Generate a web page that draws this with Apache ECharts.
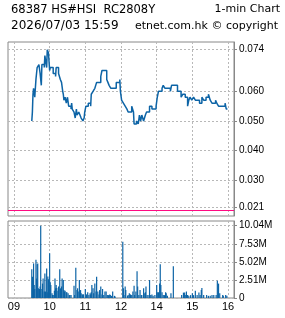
<!DOCTYPE html>
<html>
<head>
<meta charset="utf-8">
<script src="https://cdn.jsdelivr.net/npm/echarts@6/dist/echarts.min.js"></script>
<style>
  html, body { margin: 0; padding: 0; background: #fff; }
  #chart { width: 285px; height: 318px; }
</style>
</head>
<body>
<div id="chart"></div>
<script>
// hour ticks on the time axis (lunch break 12:00-13:00 is squeezed out)
const xTickTimes  = ['09:00', '10:00', '11:00', '12:00', '14:00', '15:00', '16:00']
const xTickLabels = ['09', '10', '11', '12', '14', '15', '16']

// price axis ticks and the pink reference level
const priceTicks = [0.074, 0.060, 0.050, 0.040, 0.030, 0.021]
const refLevel = 0.021

// volume axis ticks (millions)
const volTicks = [0, 2.51, 5.02, 7.53, 10.04]

// 1-min last price
const priceTimes = [
  '09:30','09:31','09:32','09:33','09:35','09:37','09:39','09:42','09:44','09:46',
  '09:47','09:51','09:52','09:55','09:56','09:58','10:00','10:01','10:06','10:10',
  '10:11','10:15','10:18','10:20','10:22','10:23','10:24','10:26','10:28','10:30',
  '10:32','10:36','10:37','10:38','10:41','10:43','10:45','10:46','10:49','10:51',
  '10:53','10:56','10:58','10:59','11:01','11:05','11:09','11:10','11:13','11:16',
  '11:19','11:26','11:28','11:36','11:38','11:40','11:43','11:52','11:58','11:59',
  '13:01','13:04','13:07','13:10','13:12','13:18','13:21','13:22','13:26','13:29',
  '13:31','13:33','13:35','13:38','13:41','13:43','13:48','13:52','13:59','14:01',
  '14:03','14:09','14:11','14:14','14:23','14:25','14:35','14:41','14:44','14:48',
  '14:52','14:54','14:56','14:59','15:02','15:05','15:12','15:16','15:19','15:23',
  '15:27','15:30','15:33','15:39','15:41','15:44','15:55','15:57','15:59'
]
const priceValues = [
  0.050,0.053,0.059,0.061,0.058,0.064,0.068,0.069,0.066,0.062,
  0.069,0.068,0.072,0.068,0.074,0.073,0.067,0.068,0.066,0.065,
  0.068,0.066,0.064,0.063,0.060,0.059,0.057,0.058,0.056,0.058,
  0.055,0.054,0.056,0.054,0.053,0.051,0.054,0.052,0.053,0.052,
  0.051,0.050,0.051,0.053,0.055,0.056,0.055,0.059,0.060,0.061,
  0.063,0.065,0.067,0.064,0.063,0.062,0.061,0.063,0.064,0.060,
  0.057,0.056,0.055,0.054,0.053,0.055,0.053,0.049,0.050,0.049,
  0.052,0.050,0.052,0.050,0.052,0.053,0.055,0.054,0.055,0.058,
  0.060,0.061,0.062,0.061,0.060,0.062,0.060,0.058,0.059,0.058,
  0.055,0.057,0.058,0.057,0.058,0.057,0.056,0.058,0.057,0.058,
  0.059,0.057,0.056,0.057,0.056,0.055,0.056,0.054,0.054
]

// 1-min volume, millions of shares
const volTimes = [
  '09:30','09:31','09:33','09:34','09:35','09:37','09:38','09:39','09:40','09:41',
  '09:43','09:44','09:45','09:47','09:48','09:49','09:51','09:52','09:53','09:55',
  '09:56','09:57','09:58','10:00','10:01','10:02','10:04','10:05','10:07','10:08',
  '10:09','10:10','10:11','10:12','10:14','10:15','10:17','10:18','10:19','10:20',
  '10:21','10:23','10:24','10:25','10:26','10:28','10:29','10:31','10:33','10:34',
  '10:36','10:41','10:42','10:44','10:46','10:47','10:48','10:50','10:51','10:52',
  '10:53','10:55','10:56','10:57','11:00','11:02','11:04','11:06','11:08','11:09',
  '11:10','11:11','11:13','11:14','11:16','11:18','11:19','11:21','11:23','11:24',
  '11:26','11:28','11:29','11:31','11:33','11:35','11:37','11:39','11:41','11:42',
  '11:44','11:46','11:49','11:50','13:03','13:04','13:05','13:07','13:08','13:11',
  '13:12','13:14','13:16','13:18','13:20','13:22','13:23','13:25','13:27','13:28',
  '13:30','13:32','13:34','13:35','13:38','13:39','13:41','13:42','13:44','13:47',
  '13:48','13:50','13:52','13:54','13:57','14:00','14:01','14:03','14:05','14:06',
  '14:07','14:09','14:11','14:13','14:15','14:16','14:18','14:24','14:28','14:42',
  '14:45','14:47','14:48','14:50','14:52','14:54','14:57','15:00','15:02','15:05',
  '15:08','15:11','15:13','15:15','15:16','15:19','15:24','15:27','15:30','15:33',
  '15:36','15:40','15:42','15:44','15:46','15:51','15:52','15:56','15:58'
]
const volValues = [
  4.0,2.96,4.8,1.8,1.25,5.3,2.7,4.7,4.8,1.35,
  1.25,1.6,10.04,1.25,2.0,2.7,0.9,3.4,0.9,4.1,
  0.8,3.0,2.6,6.2,2.2,1.8,0.65,0.4,0.4,1.0,
  2.7,1.35,1.8,1.4,1.0,1.6,4.0,1.25,1.4,1.6,
  2.7,2.5,1.1,0.9,1.0,0.8,0.8,0.65,0.4,0.4,
  0.4,1.7,0.4,4.2,1.1,1.35,0.9,2.5,1.0,1.1,
  0.65,0.5,0.5,0.5,1.25,0.5,0.8,0.4,0.65,0.5,
  0.8,1.8,1.35,0.65,2.0,0.9,2.96,0.9,0.5,1.1,
  1.6,0.5,1.25,0.4,0.9,0.9,0.4,0.4,0.5,0.4,
  0.3,0.9,0.3,0.2,7.8,1.35,0.4,1.6,1.1,0.3,
  0.4,0.65,0.5,0.4,0.9,1.7,0.4,0.9,3.7,1.6,
  0.4,1.1,0.4,0.4,1.35,0.65,0.8,1.6,0.4,0.4,
  2.5,0.4,0.5,0.3,0.4,1.8,0.8,0.8,2.0,4.7,
  1.8,0.8,0.4,0.4,0.8,0.65,0.3,0.65,4.4,0.4,
  0.75,0.75,0.4,0.9,0.4,0.3,0.4,0.65,0.4,1.0,
  0.4,0.75,0.4,1.1,1.4,0.4,0.4,0.3,0.3,0.4,
  0.4,0.4,2.4,2.0,0.65,0.4,0.3,0.4,0.3
]

// minute slots from 08:50 to 16:10, morning and afternoon joined at 12:00
const pad = n => String(n).padStart(2, '0')
const timeSlots = []
for (let m = -10; m <= 370; m++) {
  const t = m <= 180 ? 540 + m : 780 + (m - 180)
  timeSlots.push(pad(Math.floor(t / 60)) + ':' + pad(t % 60))
}

const BLUE = '#0d64a6'
const GRID_GRAY = '#b8b8b8'
const BORDER = '#888'
const FONT = "'Liberation Sans', Arial, sans-serif"
const HEAD_FONT = "'DejaVu Sans', Verdana, sans-serif"

const isHour = (idx, val) => xTickTimes.includes(val)
const dashed = { lineStyle: { color: GRID_GRAY, type: [2, 2], width: 1 } }

const head = size => ({ color: '#000', fontSize: size, fontWeight: 'normal', fontFamily: HEAD_FONT })

const xAxisBase = {
  type: 'category',
  data: timeSlots,
  boundaryGap: false,
  axisLine: { show: false },
  axisTick: { show: false },
  splitLine: { show: true, interval: isHour, ...dashed }
}

const chart = echarts.init(document.getElementById('chart'), null, { renderer: 'canvas' })

chart.setOption({
  animation: false,
  backgroundColor: '#fff',
  title: [
    { text: '68387 HS#HSI  RC2808Y', left: 11, top: 4, padding: 0, textStyle: head(11.5) },
    { text: '1-min Chart', right: 5, top: 4, padding: 0, textStyle: head(11) },
    { text: '2026/07/03 15:59', left: 11, top: 20, padding: 0, textStyle: head(12) },
    { text: 'etnet.com.hk © copyright', right: 7, top: 21, padding: 0, textStyle: head(11) }
  ],
  grid: [
    { left: 8, right: 51, top: 42, bottom: 102, show: true, borderColor: BORDER, borderWidth: 1, backgroundColor: '#fff' },
    { left: 8, right: 51, top: 221, bottom: 20, show: true, borderColor: BORDER, borderWidth: 1, backgroundColor: '#fff' }
  ],
  xAxis: [
    { ...xAxisBase, gridIndex: 0, axisLabel: { show: false } },
    {
      ...xAxisBase, gridIndex: 1,
      axisLabel: {
        show: true, interval: isHour, margin: 3,
        color: '#000', fontSize: 11, fontFamily: FONT,
        formatter: v => xTickLabels[xTickTimes.indexOf(v)]
      }
    }
  ],
  yAxis: [
    {
      type: 'value', gridIndex: 0, position: 'right',
      min: 0.018, max: 0.0766,
      axisLine: { show: true, lineStyle: { color: BORDER } },
      axisTick: { show: true, length: 3, customValues: priceTicks, lineStyle: { color: BORDER } },
      axisLabel: {
        customValues: priceTicks, margin: 5,
        color: '#000', fontSize: 10, fontFamily: FONT,
        formatter: v => v.toFixed(3)
      },
      splitLine: { show: true, ...dashed }
    },
    {
      type: 'value', gridIndex: 1, position: 'right',
      min: 0, max: 10.69,
      axisLine: { show: true, lineStyle: { color: BORDER } },
      axisTick: { show: true, length: 3, customValues: volTicks, lineStyle: { color: BORDER } },
      axisLabel: {
        customValues: volTicks, margin: 5,
        color: '#000', fontSize: 10, fontFamily: FONT,
        formatter: v => v === 0 ? '0' : v.toFixed(2) + 'M'
      },
      splitLine: { show: true, ...dashed }
    }
  ],
  series: [
    {
      type: 'line', xAxisIndex: 0, yAxisIndex: 0,
      step: 'end', symbol: 'none',
      lineStyle: { color: BLUE, width: 1.5 },
      data: priceTimes.map((t, i) => [t, priceValues[i]]),
      markLine: {
        silent: true, symbol: 'none', label: { show: false },
        lineStyle: { color: '#ff0a82', type: 'solid', width: 1.2 },
        data: [{ yAxis: refLevel }]
      }
    },
    {
      type: 'bar', xAxisIndex: 1, yAxisIndex: 1,
      barWidth: 1.2,
      itemStyle: { color: BLUE },
      data: volTimes.map((t, i) => [t, volValues[i]])
    }
  ]
})
</script>
</body>
</html>
